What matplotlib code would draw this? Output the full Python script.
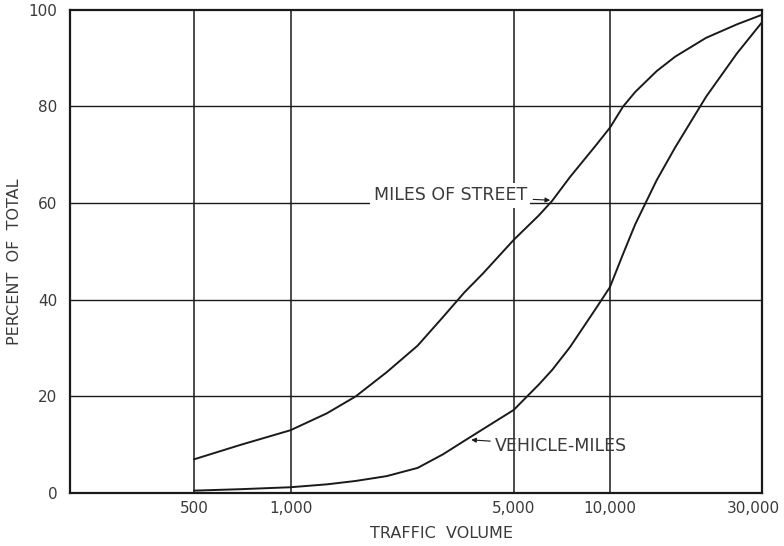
import matplotlib.pyplot as plt
import matplotlib.transforms as mtransforms

# traffic volume (vehicles per day) and cumulative percent of total
volume = [500, 700, 1000, 1300, 1600, 2000, 2500, 3000, 3500, 4000, 5000, 6000, 6600, 7500,
          9000, 10000, 11000, 12000, 14000, 16000, 20000, 25000, 30000]
miles_of_street = [7.0, 10.0, 13.0, 16.5, 20.0, 25.0, 30.5, 36.4, 41.5, 45.4, 52.4, 57.5, 60.5, 65.4,
                   71.8, 75.6, 80.0, 83.0, 87.3, 90.3, 94.2, 97.0, 99.0]
vehicle_miles = [0.5, 0.8, 1.2, 1.8, 2.5, 3.5, 5.2, 8.0, 10.8, 13.2, 17.2, 22.5, 25.5, 30.2,
                 38.0, 42.6, 49.5, 55.6, 64.7, 71.5, 82.0, 91.0, 97.5]

xticks = [500, 1000, 5000, 10000, 30000]
xtick_labels = ['500', '1,000', '5,000', '10,000', '30,000']
yticks = [0, 20, 40, 60, 80, 100]

plt.rcParams['font.family'] = ['DejaVu Sans']
ink = '#1a1a1a'
txt = '#3a3a3a'

fig = plt.figure(figsize=(7.84, 5.46), dpi=100)
ax = fig.add_axes([0.0893, 0.097, 0.883, 0.885])

ax.set_xscale('log')
ax.set_xlim(204, 30000)
ax.set_ylim(0, 100)

# grid
for v in [500, 1000, 5000, 10000]:
    ax.axvline(v, color=ink, lw=1.1, zorder=1)
for h in [20, 40, 60, 80]:
    ax.axhline(h, color=ink, lw=1.0, zorder=1)

ax.plot(volume, miles_of_street, color=ink, lw=1.4, zorder=3)
ax.plot(volume, vehicle_miles, color=ink, lw=1.4, zorder=3)

ax.set_xticks(xticks)
ax.set_xticklabels(xtick_labels)
ax.minorticks_off()
ax.set_yticks(yticks)
ax.tick_params(axis='both', length=0, labelsize=11, labelcolor=txt)
ax.tick_params(axis='x', pad=6)
ax.tick_params(axis='y', pad=9)
# last label sits against the right edge, nudge it in a bit
shift = mtransforms.ScaledTranslation(-9 / 100, 0, fig.dpi_scale_trans)
lab = ax.get_xticklabels()[-1]
lab.set_transform(lab.get_transform() + shift)

for s in ax.spines.values():
    s.set_linewidth(1.6)
    s.set_color(ink)

fig.text(441 / 784, 1 - 534 / 546, 'TRAFFIC  VOLUME', ha='center', va='center',
         fontsize=11.5, color=txt)
fig.text(15 / 784, 1 - 262 / 546, 'PERCENT  OF  TOTAL', ha='center', va='center',
         rotation=90, fontsize=11.5, color=txt)

# annotations
ax.annotate('MILES OF STREET', xy=(6500, 60.6), xytext=(5500, 61.6),
            ha='right', va='center', fontsize=12.5, color=txt,
            bbox=dict(boxstyle='square,pad=0.2', fc='white', ec='none'),
            arrowprops=dict(arrowstyle='-|>', color=ink, lw=0.8, mutation_scale=7,
                            shrinkA=2, shrinkB=0), zorder=4)
ax.annotate('VEHICLE-MILES', xy=(3680, 11.0), xytext=(4350, 9.8),
            ha='left', va='center', fontsize=12.5, color=txt,
            arrowprops=dict(arrowstyle='-|>', color=ink, lw=0.8, mutation_scale=7,
                            shrinkA=1, shrinkB=0), zorder=4)

fig.savefig('out.png', dpi=100)
